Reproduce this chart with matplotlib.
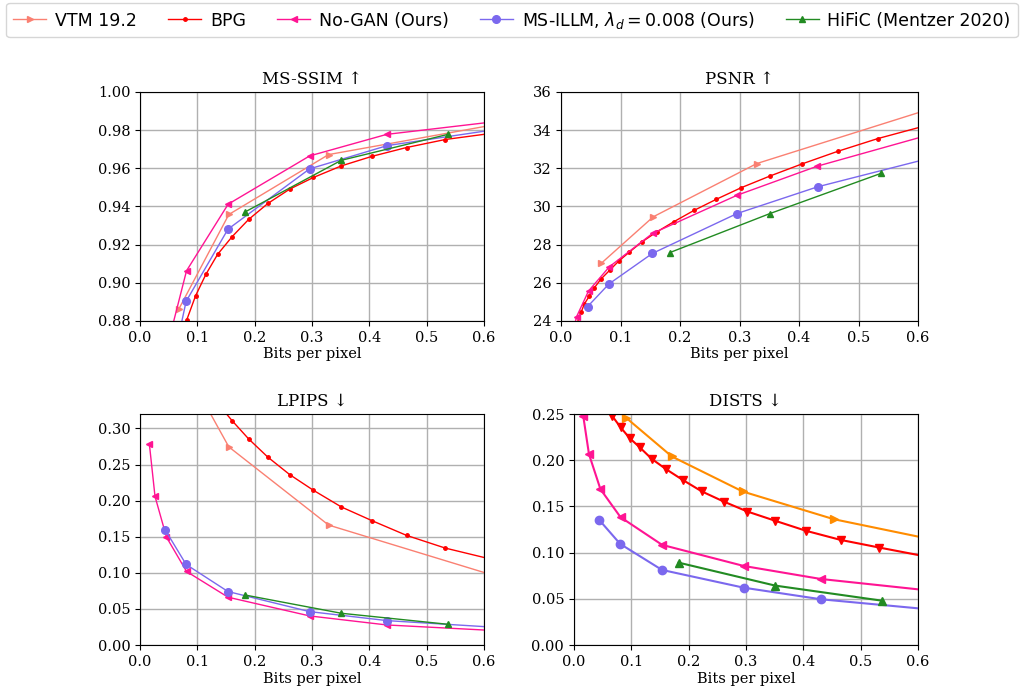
import matplotlib
matplotlib.use("Agg")
import matplotlib.pyplot as plt

# ---- data (bits per pixel + metric values) ----
vtm_bpp = [0.0675, 0.155, 0.329, 0.66]
vtm_msssim = [0.8861, 0.9358, 0.9672, 0.9851]
vtm_psnr = [27.02, 29.46, 32.25, 35.50]
vtm_lpips = [0.400, 0.2745, 0.1662, 0.0860]
vtm_dists_bpp = [0.0915, 0.1707, 0.2942, 0.4532, 0.70]
vtm_dists = [0.2457, 0.2041, 0.1662, 0.1362, 0.1046]

bpg_bpp = [0.026, 0.0336, 0.0392, 0.0476, 0.056, 0.0672, 0.0815, 0.097, 0.1149, 0.1354,
           0.1605, 0.1895, 0.2232, 0.2612, 0.3025, 0.3515, 0.405, 0.465, 0.5326, 0.61]
bpg_msssim = [0.800, 0.816, 0.828, 0.843, 0.855, 0.868, 0.8805, 0.8932, 0.9044, 0.9149,
              0.9241, 0.9332, 0.9416, 0.9491, 0.9552, 0.9613, 0.9663, 0.9709, 0.9751, 0.9782]
bpg_psnr = [23.80, 24.45, 24.89, 25.31, 25.74, 26.20, 26.65, 27.14, 27.61, 28.13,
            28.66, 29.20, 29.79, 30.38, 30.98, 31.60, 32.23, 32.89, 33.56, 34.21]
bpg_lpips = [0.600, 0.580, 0.550, 0.520, 0.490, 0.460, 0.430, 0.400, 0.370, 0.335,
             0.311, 0.2856, 0.2602, 0.2361, 0.2144, 0.1912, 0.1722, 0.1519, 0.1343, 0.1194]
bpg_dists = [0.292, 0.282, 0.275, 0.265, 0.2565, 0.2475, 0.2355, 0.224, 0.2139, 0.2016,
             0.1904, 0.1788, 0.1662, 0.1553, 0.1445, 0.1344, 0.1236, 0.1138, 0.1055, 0.0963]

nogan_bpp = [0.0163, 0.0262, 0.0462, 0.0812, 0.1538, 0.296, 0.4305, 0.68]
nogan_msssim = [0.780, 0.815, 0.865, 0.9063, 0.9412, 0.9665, 0.9778, 0.9866]
nogan_psnr = [23.00, 24.23, 25.57, 26.84, 28.59, 30.59, 32.11, 34.29]
nogan_lpips = [0.279, 0.206, 0.1495, 0.1019, 0.0662, 0.0403, 0.0278, 0.0175]
nogan_dists = [0.2475, 0.2066, 0.1687, 0.1384, 0.1084, 0.0856, 0.0715, 0.0550]

illm_bpp = [0.0445, 0.0805, 0.1535, 0.2958, 0.4312, 0.68]
illm_msssim = [0.840, 0.8903, 0.9281, 0.9597, 0.9719, 0.9830]
illm_psnr = [24.75, 25.94, 27.54, 29.63, 31.03, 33.01]
illm_lpips = [0.1588, 0.1116, 0.0741, 0.0463, 0.0338, 0.0216]
illm_dists = [0.1351, 0.1095, 0.0813, 0.0621, 0.0495, 0.0351]

hific_bpp = [0.1825, 0.3512, 0.5373]
hific_msssim = [0.937, 0.9642, 0.9778]
hific_psnr = [27.58, 29.63, 31.73]
hific_lpips = [0.0694, 0.044, 0.0287]
hific_dists = [0.0892, 0.0643, 0.0480]

SALMON = "#FA8072"
RED = "#FF0000"
PINK = "#FF1493"
PURPLE = "#7B68EE"
GREEN = "#228B22"
ORANGE = "#FF8C00"

SERIF = ["DejaVu Serif", "DejaVu Sans"]

fig = plt.figure(figsize=(10.24, 6.87), dpi=100)

ax_ms = fig.add_axes([0.1367, 0.5328, 0.3359, 0.3333])
ax_ps = fig.add_axes([0.5479, 0.5328, 0.3486, 0.3333])
ax_lp = fig.add_axes([0.1367, 0.0611, 0.3359, 0.3362])
ax_di = fig.add_axes([0.5605, 0.0611, 0.3359, 0.3362])

panels = [
    (ax_ms, "MS-SSIM ↑", vtm_msssim, bpg_msssim, nogan_msssim, illm_msssim, hific_msssim),
    (ax_ps, "PSNR ↑", vtm_psnr, bpg_psnr, nogan_psnr, illm_psnr, hific_psnr),
    (ax_lp, "LPIPS ↓", vtm_lpips, bpg_lpips, nogan_lpips, illm_lpips, hific_lpips),
]

handles = None
for ax, title, v_vtm, v_bpg, v_ng, v_il, v_hf in panels:
    h1, = ax.plot(vtm_bpp, v_vtm, color=SALMON, marker=">", ms=5, lw=1, label="VTM 19.2")
    h2, = ax.plot(bpg_bpp, v_bpg, color=RED, marker=".", ms=5, lw=1, label="BPG")
    h3, = ax.plot(nogan_bpp, v_ng, color=PINK, marker="<", ms=5, lw=1, label="No-GAN (Ours)")
    h4, = ax.plot(illm_bpp, v_il, color=PURPLE, marker="o", ms=5.5, lw=1,
                  label=r"MS-ILLM, $\lambda_d = 0.008$ (Ours)")
    h5, = ax.plot(hific_bpp, v_hf, color=GREEN, marker="^", ms=5, lw=1,
                  label="HiFiC (Mentzer 2020)")
    if handles is None:
        handles = [h1, h2, h3, h4, h5]
    ax.set_title(title, family=SERIF, fontsize=12)

# DISTS panel uses its own styling
ax_di.plot(vtm_dists_bpp, vtm_dists, color=ORANGE, marker=">", ms=6, lw=1.5)
ax_di.plot(bpg_bpp, bpg_dists, color=RED, marker="v", ms=6, lw=1.5)
ax_di.plot(nogan_bpp, nogan_dists, color=PINK, marker="<", ms=6, lw=1.5)
ax_di.plot(illm_bpp, illm_dists, color=PURPLE, marker="o", ms=6, lw=1.5)
ax_di.plot(hific_bpp, hific_dists, color=GREEN, marker="^", ms=6, lw=1.5)
ax_di.set_title("DISTS ↓", family=SERIF, fontsize=12)

ax_ms.set_ylim(0.88, 1.00)
ax_ms.set_yticks([0.88, 0.90, 0.92, 0.94, 0.96, 0.98, 1.00])
ax_ms.set_yticklabels([f"{t:.2f}" for t in ax_ms.get_yticks()])
ax_ps.set_ylim(24, 36)
ax_ps.set_yticks([24, 26, 28, 30, 32, 34, 36])
ax_lp.set_ylim(0, 0.32)
ax_lp.set_yticks([0.0, 0.05, 0.10, 0.15, 0.20, 0.25, 0.30])
ax_lp.set_yticklabels([f"{t:.2f}" for t in ax_lp.get_yticks()])
ax_di.set_ylim(0, 0.25)
ax_di.set_yticks([0.0, 0.05, 0.10, 0.15, 0.20, 0.25])
ax_di.set_yticklabels([f"{t:.2f}" for t in ax_di.get_yticks()])

for ax in [ax_ms, ax_ps, ax_lp, ax_di]:
    ax.set_xlim(0, 0.6)
    ax.set_xticks([0.0, 0.1, 0.2, 0.3, 0.4, 0.5, 0.6])
    ax.set_xticklabels([f"{t:.1f}" for t in ax.get_xticks()])
    ax.grid(True, color="#b0b0b0", lw=1)
    ax.set_axisbelow(True)
    ax.set_xlabel("Bits per pixel", family=SERIF, fontsize=10.5, labelpad=2)
    for lab in ax.get_xticklabels() + ax.get_yticklabels():
        lab.set_family(SERIF)
        lab.set_fontsize(10.5)

fig.legend(handles=handles, loc="upper center", bbox_to_anchor=(0.5, 1.0), ncol=5,
           prop={"family": "DejaVu Sans", "size": 12.5}, columnspacing=1.8,
           handlelength=1.9, handletextpad=0.5, borderaxespad=0.15)

fig.savefig("out.png", dpi=100)
